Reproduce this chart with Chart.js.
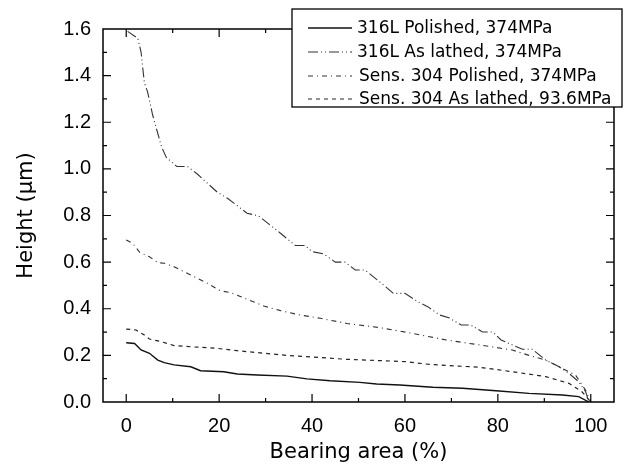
<!DOCTYPE html>
<html><head><meta charset="utf-8">
<script src="https://cdn.jsdelivr.net/npm/chart.js@4.4.1/dist/chart.umd.min.js"></script>
<style>html,body{margin:0;padding:0;background:#fff}#wrap{position:relative;width:627px;height:473px}</style>
</head><body><div id="wrap"><canvas id="c" width="627" height="473"></canvas></div>
<script>
const seriesLabels = ["316L Polished, 374MPa","316L As lathed, 374MPa","Sens. 304 Polished, 374MPa","Sens. 304 As lathed, 93.6MPa"];
const xTicks = [0,20,40,60,80,100];
const yTicks = [0,0.2,0.4,0.6,0.8,1.0,1.2,1.4,1.6];

const s316Pol_x = [0,1.8,3.2,5,6.8,8.2,10.3,13.9,16,21,23.9,28.2,34.6,38.9,43.9,50.3,53.9,58.9,66,72.4,79.6,86.7,93.9,97.4,99.6];
const s316Pol_y = [0.254,0.251,0.223,0.209,0.18,0.169,0.159,0.151,0.134,0.13,0.12,0.116,0.111,0.099,0.091,0.084,0.077,0.073,0.063,0.059,0.048,0.037,0.03,0.023,0];

const s316Lat_x = [0.3,2.5,3.2,3.9,4.6,5.7,6.4,7.6,8.6,10.9,13.2,15.3,19.6,21.8,26,28.5,33.2,36.4,38.5,40,42.5,45,47.1,49.3,51.4,53.9,56,57.5,60,62.8,64.9,67.5,69.6,72.1,74.2,76.7,78.9,80.7,83.1,85.3,87.4,90.3,93.1,95.3,97.4,98.9,99.6];
const s316Lat_y = [1.59,1.56,1.50,1.37,1.33,1.23,1.18,1.095,1.05,1.01,1.01,0.978,0.90,0.874,0.81,0.798,0.724,0.671,0.671,0.645,0.635,0.60,0.60,0.566,0.566,0.526,0.492,0.466,0.466,0.43,0.409,0.373,0.36,0.33,0.33,0.30,0.30,0.266,0.245,0.226,0.226,0.18,0.152,0.123,0.087,0.044,0];

const s304Pol_x = [0,1.4,2.9,5,6.8,8.2,10.3,13.9,17.5,20.3,22.5,26.1,29.6,33.2,37.5,41.8,47.5,54.6,61.7,65.3,68.9,76,83.1,86.7,90.3,96.7,98.9,100];
const s304Pol_y = [0.695,0.68,0.642,0.623,0.598,0.595,0.58,0.545,0.509,0.477,0.469,0.44,0.412,0.392,0.373,0.359,0.337,0.319,0.294,0.28,0.266,0.245,0.223,0.20,0.18,0.116,0.05,0];

const s304Lat_x = [0,2.1,3.9,5,7.5,10.3,13.9,19.6,23.9,28.2,34.6,47.5,60.3,65.3,76,83.1,90.3,95.3,98.1,100];
const s304Lat_y = [0.313,0.309,0.287,0.27,0.259,0.242,0.237,0.23,0.22,0.212,0.20,0.183,0.173,0.161,0.149,0.13,0.109,0.08,0.044,0];

const pts = (xs, ys) => xs.map((x,i)=>({x:x, y:ys[i]}));
const dashes = [[], [10,3,1,3,1,3], [5,4,1,4], [4,4]];
const widths = [1.4,1.1,1.1,1.2];
const colors = ['#111','#333','#333','#222'];
const FONT_T = '"DejaVu Sans", sans-serif';
const FONT_N = '"Liberation Sans", Arial, sans-serif';

const frameTicks = {
  id:'frameTicks',
  afterDraw(chart){
    const ctx = chart.ctx, a = chart.chartArea, xs = chart.scales.x, ys = chart.scales.y;
    ctx.save();
    ctx.strokeStyle = '#000'; ctx.lineWidth = 1.5;
    ctx.strokeRect(a.left, a.top, a.right-a.left, a.bottom-a.top);
    ctx.lineWidth = 1.2;
    ctx.beginPath();
    for (let v=0; v<=100; v+=10){
      const px = xs.getPixelForValue(v), L = (v%20===0)?8:4;
      ctx.moveTo(px,a.bottom); ctx.lineTo(px,a.bottom-L);
      ctx.moveTo(px,a.top); ctx.lineTo(px,a.top+L);
    }
    for (let k=1; k<16; k++){
      const v=k/10, py = ys.getPixelForValue(v), L=(k%2===0)?8:4;
      ctx.moveTo(a.left,py); ctx.lineTo(a.left+L,py);
      ctx.moveTo(a.right,py); ctx.lineTo(a.right-L,py);
    }
    ctx.stroke();
    // legend
    const bx=292, by=9, bw=330, bh=98;
    ctx.fillStyle='#fff'; ctx.fillRect(bx,by,bw,bh);
    ctx.lineWidth=1.3; ctx.strokeStyle='#000'; ctx.strokeRect(bx,by,bw,bh);
    const rows=[28,52,76,99];
    ctx.font='17px ' + FONT_T;
    ctx.textBaseline='middle'; ctx.fillStyle='#000';
    chart.data.datasets.forEach((d,i)=>{
      ctx.beginPath(); ctx.setLineDash(d.borderDash||[]); ctx.lineWidth=d.borderWidth; ctx.strokeStyle=d.borderColor;
      ctx.moveTo(308,rows[i]); ctx.lineTo(352,rows[i]); ctx.stroke();
      ctx.setLineDash([]);
      ctx.fillText(d.label, i<2?357:359, rows[i]+1);
    });
    ctx.restore();
  }
};

new Chart(document.getElementById('c'), {
  type:'line',
  data:{ datasets:[
    {label:seriesLabels[0], data:pts(s316Pol_x,s316Pol_y)},
    {label:seriesLabels[1], data:pts(s316Lat_x,s316Lat_y)},
    {label:seriesLabels[2], data:pts(s304Pol_x,s304Pol_y)},
    {label:seriesLabels[3], data:pts(s304Lat_x,s304Lat_y)}
  ].map((d,i)=>Object.assign(d,{borderColor:colors[i],borderWidth:widths[i],borderDash:dashes[i],pointRadius:0,fill:false,tension:0}))},
  options:{
    responsive:false, animation:false,
    layout:{padding:{left:0,right:13,top:29,bottom:0}},
    plugins:{legend:{display:false},tooltip:{enabled:false}},
    scales:{
      x:{type:'linear',min:-5,max:105,
        afterBuildTicks(s){s.ticks=xTicks.map(v=>({value:v}));},
        afterFit(s){s.height=71;},
        grid:{display:false,drawTicks:false},border:{display:false},
        ticks:{padding:12,color:'#000',font:{family:FONT_N,size:20}},
        title:{display:true,text:'Bearing area (%)',color:'#000',font:{family:FONT_T,size:21},padding:{top:0,bottom:8}}
      },
      y:{type:'linear',min:0,max:1.6,
        afterBuildTicks(s){s.ticks=yTicks.map(v=>({value:v}));},
        afterFit(s){s.width=103;},
        grid:{display:false,drawTicks:false},border:{display:false},
        ticks:{padding:12,color:'#000',callback:v=>v.toFixed(1),font:{family:FONT_N,size:20}},
        title:{display:true,text:'Height (μm)',color:'#000',font:{family:FONT_T,size:21},padding:{top:14,bottom:0}}
      }
    }
  },
  plugins:[frameTicks]
});
</script></body></html>
